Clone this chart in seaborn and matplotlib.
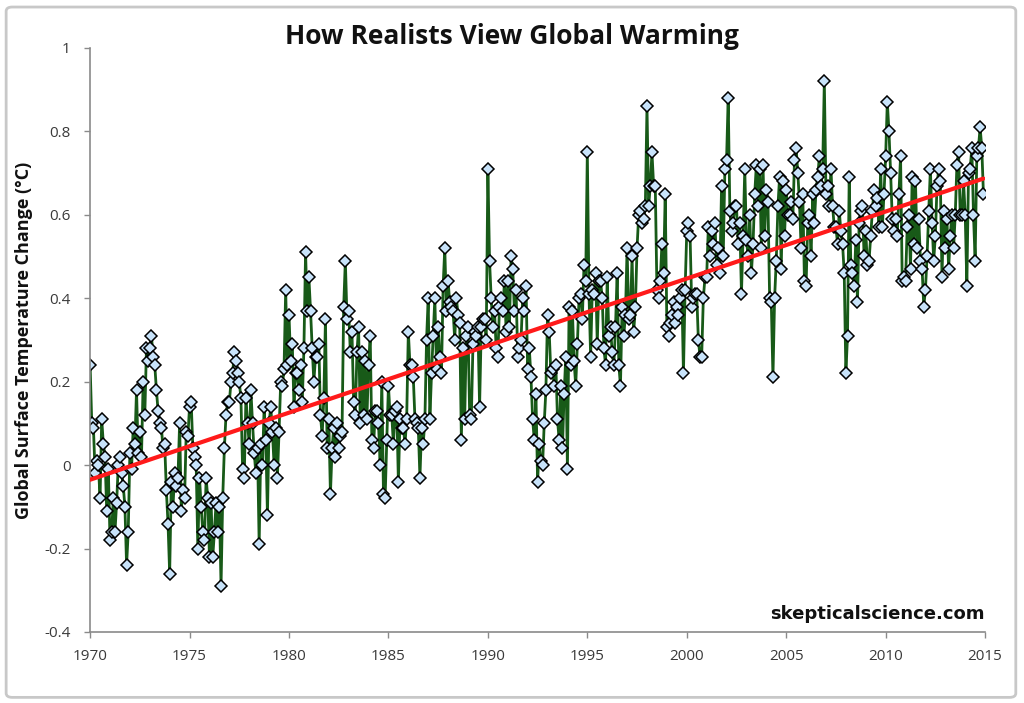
import matplotlib
matplotlib.use("Agg")
import matplotlib.pyplot as plt
from matplotlib.patches import FancyBboxPatch
import numpy as np
import pandas as pd
import seaborn as sns

# monthly global temperature anomalies (°C), Jan..Dec per year
anom_1970s = [
    [0.24, 0.10, 0.09, -0.02, 0.01, 0.00, -0.08, 0.11, 0.05, 0.02, -0.11, -0.01],  # 1970
    [-0.18, -0.16, -0.08, -0.16, -0.09, 0.00, 0.02, -0.02, -0.05, -0.10, -0.24, -0.16],
    [0.03, -0.01, 0.09, 0.05, 0.18, 0.03, 0.08, 0.02, 0.20, 0.12, 0.28, 0.25],
    [0.28, 0.31, 0.26, 0.24, 0.18, 0.13, 0.10, 0.09, 0.04, 0.05, -0.06, -0.14],
    [-0.26, -0.04, -0.10, -0.02, -0.05, -0.03, 0.10, -0.11, -0.06, -0.08, 0.08, 0.07],
    [0.14, 0.15, 0.04, 0.02, 0.00, -0.20, -0.03, -0.10, -0.16, -0.18, -0.03, -0.08],
    [-0.22, -0.09, -0.22, -0.16, -0.09, -0.16, -0.10, -0.29, -0.08, 0.04, 0.12, 0.15],
    [0.15, 0.20, 0.22, 0.27, 0.25, 0.22, 0.20, 0.16, -0.01, -0.03, 0.16, 0.10],
    [0.05, 0.18, 0.10, 0.03, -0.02, 0.04, -0.19, 0.05, 0.00, 0.14, 0.06, -0.12],
    [0.10, 0.14, 0.08, 0.00, 0.09, -0.03, 0.08, 0.20, 0.19, 0.23, 0.42, 0.24],
]
anom_1980s = [
    [0.36, 0.25, 0.29, 0.14, 0.22, 0.22, 0.18, 0.24, 0.15, 0.28, 0.51, 0.37],  # 1980
    [0.45, 0.37, 0.28, 0.20, 0.26, 0.26, 0.29, 0.12, 0.07, 0.16, 0.35, 0.04],
    [0.11, -0.07, 0.04, 0.09, 0.02, 0.10, 0.04, 0.07, 0.08, 0.38, 0.49, 0.35],
    [0.37, 0.27, 0.32, 0.15, 0.12, 0.27, 0.33, 0.10, 0.27, 0.12, 0.25, 0.11],
    [0.24, 0.31, 0.06, 0.04, 0.13, 0.13, 0.10, 0.00, 0.20, -0.07, -0.08, 0.06],
    [0.19, 0.12, 0.12, 0.05, 0.13, 0.14, -0.04, 0.11, 0.09, 0.09, 0.05, 0.11],
    [0.32, 0.24, 0.24, 0.21, 0.11, 0.10, 0.09, -0.03, 0.09, 0.05, 0.11, 0.30],
    [0.40, 0.11, 0.22, 0.31, 0.40, 0.23, 0.33, 0.26, 0.22, 0.43, 0.52, 0.37],
    [0.44, 0.39, 0.38, 0.37, 0.30, 0.40, 0.36, 0.34, 0.06, 0.28, 0.11, 0.31],
    [0.33, 0.12, 0.11, 0.29, 0.32, 0.31, 0.33, 0.14, 0.33, 0.35, 0.35, 0.30],
]
anom_1990s = [
    [0.71, 0.49, 0.40, 0.33, 0.37, 0.28, 0.26, 0.38, 0.40, 0.37, 0.44, 0.32],  # 1990
    [0.44, 0.33, 0.50, 0.47, 0.37, 0.42, 0.26, 0.28, 0.30, 0.40, 0.37, 0.43],
    [0.23, 0.28, 0.21, 0.11, 0.06, 0.17, -0.04, 0.05, 0.01, 0.00, 0.10, 0.18],
    [0.36, 0.32, 0.22, 0.23, 0.19, 0.24, 0.11, 0.06, 0.19, 0.04, 0.17, 0.26],
    [-0.01, 0.38, 0.24, 0.37, 0.25, 0.19, 0.29, 0.40, 0.41, 0.35, 0.48, 0.44],
    [0.75, 0.41, 0.26, 0.42, 0.41, 0.46, 0.29, 0.44, 0.44, 0.40, 0.28, 0.24],
    [0.45, 0.31, 0.33, 0.27, 0.24, 0.33, 0.46, 0.24, 0.19, 0.38, 0.31, 0.36],
    [0.52, 0.35, 0.36, 0.50, 0.32, 0.38, 0.52, 0.60, 0.61, 0.58, 0.59, 0.62],
    [0.86, 0.62, 0.67, 0.75, 0.67, 0.67, 0.42, 0.40, 0.44, 0.53, 0.46, 0.65],
    [0.33, 0.31, 0.34, 0.36, 0.39, 0.34, 0.38, 0.36, 0.40, 0.42, 0.22, 0.42],
]
anom_2000s = [
    [0.56, 0.58, 0.55, 0.38, 0.40, 0.41, 0.41, 0.30, 0.26, 0.26, 0.40, 0.45],  # 2000
    [0.45, 0.57, 0.50, 0.56, 0.53, 0.58, 0.48, 0.52, 0.46, 0.67, 0.50, 0.71],
    [0.73, 0.88, 0.61, 0.56, 0.58, 0.62, 0.62, 0.53, 0.58, 0.41, 0.55, 0.71],
    [0.54, 0.50, 0.60, 0.46, 0.53, 0.65, 0.72, 0.62, 0.71, 0.52, 0.72, 0.55],
    [0.66, 0.63, 0.40, 0.39, 0.21, 0.40, 0.49, 0.62, 0.69, 0.47, 0.68, 0.55],
    [0.66, 0.60, 0.60, 0.63, 0.59, 0.73, 0.76, 0.70, 0.63, 0.52, 0.65, 0.44],
    [0.43, 0.58, 0.60, 0.50, 0.65, 0.58, 0.66, 0.69, 0.74, 0.67, 0.71, 0.92],
    [0.65, 0.67, 0.62, 0.71, 0.62, 0.57, 0.57, 0.53, 0.61, 0.56, 0.53, 0.46],
    [0.22, 0.31, 0.69, 0.48, 0.46, 0.43, 0.54, 0.39, 0.58, 0.61, 0.62, 0.50],
    [0.56, 0.48, 0.49, 0.55, 0.61, 0.66, 0.62, 0.64, 0.57, 0.71, 0.57, 0.65],
]
anom_2010s = [
    [0.74, 0.87, 0.80, 0.70, 0.59, 0.56, 0.59, 0.55, 0.65, 0.74, 0.44, 0.45],  # 2010
    [0.44, 0.57, 0.60, 0.47, 0.69, 0.53, 0.68, 0.52, 0.59, 0.49, 0.47, 0.38],
    [0.42, 0.50, 0.61, 0.71, 0.58, 0.49, 0.55, 0.67, 0.71, 0.68, 0.45, 0.61],
    [0.52, 0.59, 0.47, 0.55, 0.60, 0.52, 0.60, 0.72, 0.75, 0.60, 0.60, 0.68],
    [0.60, 0.43, 0.70, 0.71, 0.76, 0.60, 0.49, 0.74, 0.76, 0.81, 0.76, 0.65],
]

start_year = 1970
x_ticks = list(range(1970, 2016, 5))
y_ticks = [-0.4, -0.2, 0, 0.2, 0.4, 0.6, 0.8, 1]

values = np.concatenate([np.ravel(a) for a in
                         (anom_1970s, anom_1980s, anom_1990s, anom_2000s, anom_2010s)])
df = pd.DataFrame({
    "year": start_year + np.arange(len(values)) / 12.0,
    "anomaly": values,
})

sns.set_style("white")
plt.rcParams["font.family"] = ["Open Sans", "DejaVu Sans"]

fig = plt.figure(figsize=(10.24, 7.03), dpi=100)
ax = fig.add_axes([0.088, 0.101, 0.874, 0.831])

# outer rounded frame like the original image
frame = FancyBboxPatch((0.006, 0.008), 0.986, 0.982, boxstyle="round,pad=0,rounding_size=0.006",
                       transform=fig.transFigure, facecolor="none", edgecolor="#c8c8c8", lw=2)
fig.patches.append(frame)

sns.lineplot(data=df, x="year", y="anomaly", ax=ax, color="#185a18", linewidth=2,
             marker="D", markersize=6.2, markerfacecolor="#c8e3fa",
             markeredgecolor="black", markeredgewidth=1.1, zorder=2)

# linear trend
sns.regplot(data=df, x="year", y="anomaly", ax=ax, scatter=False, ci=None,
            color="#ff1a1a", line_kws={"linewidth": 3, "zorder": 3})

ax.set_xlim(1970, 2015)
ax.set_ylim(-0.4, 1)
ax.set_xticks(x_ticks)
ax.set_yticks(y_ticks)
ax.set_yticklabels([f"{t:g}" for t in y_ticks])
ax.tick_params(axis="both", labelsize=11, labelcolor="#3a3a3a", color="#8a8a8a",
               length=4, width=1, direction="out", left=True, bottom=True)
ax.tick_params(axis="x", pad=8)
ax.tick_params(axis="y", pad=10)
for side in ("top", "right"):
    ax.spines[side].set_visible(False)
for side in ("left", "bottom"):
    ax.spines[side].set_color("#8a8a8a")
    ax.spines[side].set_linewidth(1.2)

ax.set_xlabel("")
ax.set_ylabel("Global Surface Temperature Change (°C)", fontsize=13,
              fontweight="bold", color="#111111", labelpad=8)
fig.suptitle("How Realists View Global Warming", x=0.5, y=0.967, fontsize=19,
             fontweight="bold", color="#111111")
ax.text(0.999, 0.015, "skepticalscience.com", transform=ax.transAxes, ha="right",
        va="bottom", fontsize=13, fontweight="bold", family="DejaVu Sans", color="#111111")

fig.savefig("out.png", dpi=100)
